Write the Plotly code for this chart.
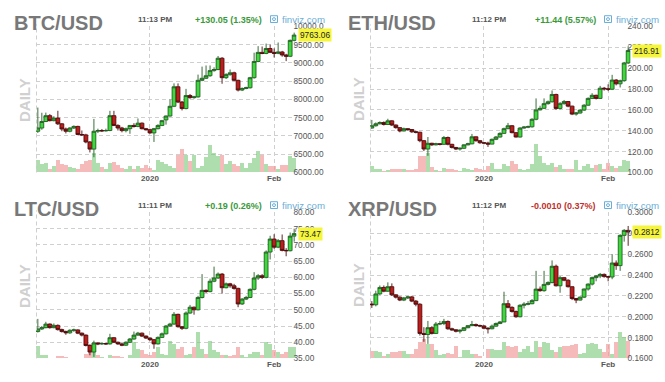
import plotly.graph_objects as go
import pandas as pd

# ---------------- data ----------------
dates = [d.strftime('%Y-%m-%d') for d in pd.date_range('2019-12-04', '2020-02-06')]

btc_open = [7129, 7218, 7396, 7556, 7420, 7490, 7333, 7191, 7129, 7218, 7262, 7040, 7030, 6836, 6640, 7129,
            7150, 7140, 7150, 7556, 7289, 7218, 7147, 7200, 7289, 7262, 7351, 7200, 7173, 7084, 7200, 7289,
            7440, 7547, 7813, 8347, 7929, 7751, 8107, 8050, 8070, 8524, 8580, 8650, 8790, 8820, 9129, 8596,
            8680, 8730, 8524, 8258, 8300, 8320, 8596, 9040, 9289, 9260, 9395, 9290, 9262, 9300, 9218, 9182, 9618]
btc_high = [7778, 7636, 7640, 7600, 7540, 7690, 7350, 7230, 7240, 7290, 7280, 7150, 7060, 6860, 7467, 7200,
            7190, 7200, 7689, 7689, 7320, 7250, 7230, 7300, 7350, 7480, 7370, 7220, 7200, 7220, 7320, 7440,
            7560, 8000, 8440, 8440, 7960, 8290, 8150, 8100, 8680, 8900, 8930, 8930, 8880, 9190, 9160, 8720,
            8820, 8760, 8540, 8330, 8350, 8620, 9280, 9460, 9450, 9530, 9500, 9400, 9560, 9330, 9250, 9640, 9830]
btc_low = [7084, 7170, 7380, 7400, 7400, 7300, 7130, 7070, 7100, 7190, 7020, 7000, 6800, 6550, 6418, 7080,
           7110, 7120, 7130, 7270, 7150, 7100, 7100, 7060, 7230, 7240, 7180, 7150, 7060, 6836, 7180, 7270,
           7310, 7530, 7790, 7900, 7700, 7730, 8020, 8020, 8050, 8500, 8560, 8620, 8760, 8800, 8430, 8560,
           8650, 8500, 8220, 8230, 8280, 8300, 8570, 9020, 9240, 9240, 9270, 9150, 9240, 9170, 9050, 9160, 9590]
btc_close = [7218, 7396, 7556, 7420, 7490, 7333, 7191, 7129, 7218, 7262, 7040, 7030, 6836, 6640, 7129, 7150,
             7140, 7150, 7556, 7289, 7218, 7147, 7200, 7289, 7262, 7351, 7200, 7173, 7084, 7200, 7289, 7420,
             7547, 7813, 8347, 7929, 7751, 8107, 8050, 8070, 8524, 8580, 8650, 8790, 8820, 9129, 8596, 8680,
             8730, 8524, 8258, 8300, 8320, 8596, 9040, 9289, 9260, 9395, 9290, 9262, 9300, 9218, 9182, 9618, 9763.06]
btc_vol = [40, 25, 28, 10, 20, 37, 25, 23, 18, 15, 10, 25, 35, 40, 60, 30, 18, 10, 28, 32, 22, 15, 10, 20, 10,
           20, 15, 22, 15, 8, 40, 33, 27, 20, 15, 55, 72, 55, 35, 53, 15, 20, 47, 85, 60, 50, 55, 25, 35, 25,
           20, 30, 15, 30, 45, 65, 53, 25, 20, 20, 10, 23, 22, 50, 45]

eth_open = [142.6, 144.8, 146.7, 147.9, 146.0, 149.5, 145.5, 143.0, 139.8, 142.0, 141.2, 139.0, 138.6, 130.5,
            122.5, 128.0, 126.5, 127.5, 127.0, 133.5, 127.0, 124.0, 122.5, 123.2, 126.5, 127.5, 134.2, 130.5,
            128.5, 128.2, 127.2, 131.8, 134.0, 137.5, 142.0, 144.8, 138.2, 134.0, 142.6, 143.5, 143.8, 151.0,
            160.0, 161.5, 166.0, 167.8, 174.8, 161.4, 166.0, 168.0, 163.6, 156.0, 157.0, 159.8, 164.5, 171.0,
            174.0, 171.0, 180.8, 180.2, 179.8, 188.6, 185.0, 188.0, 205.0]
eth_high = [150.4, 148.0, 149.0, 149.0, 151.5, 150.0, 146.0, 143.5, 143.0, 142.5, 141.5, 140.0, 139.0, 131.0,
            134.0, 128.5, 128.5, 128.0, 135.0, 134.5, 127.5, 124.5, 124.0, 127.0, 128.5, 137.0, 134.5, 131.0,
            129.0, 129.5, 132.5, 135.0, 138.5, 143.0, 147.5, 145.5, 138.5, 143.5, 144.5, 145.0, 152.0, 171.0,
            164.0, 171.0, 169.0, 178.6, 175.5, 167.5, 169.5, 168.5, 164.0, 158.0, 160.5, 165.5, 172.0, 176.0,
            174.5, 183.0, 182.0, 184.5, 193.6, 189.5, 189.0, 206.0, 221.0]
eth_low = [142.0, 144.0, 146.0, 145.0, 145.5, 144.5, 142.0, 138.5, 139.5, 140.0, 138.0, 137.5, 129.0, 120.5,
           116.0, 125.5, 126.0, 126.0, 126.5, 126.0, 123.0, 121.5, 121.0, 122.5, 126.0, 127.0, 129.5, 127.5,
           127.0, 124.5, 127.0, 131.0, 133.5, 137.0, 141.5, 137.5, 133.5, 133.5, 142.0, 142.5, 143.0, 150.0,
           159.5, 161.0, 165.0, 167.0, 160.0, 160.5, 165.0, 162.5, 155.0, 154.5, 156.5, 159.0, 164.0, 170.5,
           170.0, 170.5, 178.5, 178.0, 179.0, 183.5, 181.5, 187.0, 204.0]
eth_close = [144.8, 146.7, 147.9, 146.0, 149.5, 145.5, 143.0, 139.8, 142.0, 141.2, 139.0, 138.6, 130.5, 122.5,
             128.0, 126.5, 127.5, 127.0, 133.5, 127.0, 124.0, 122.5, 123.2, 126.5, 127.5, 134.2, 130.5, 128.5,
             128.2, 127.2, 131.8, 134.0, 137.5, 142.0, 144.8, 138.2, 134.0, 142.6, 143.5, 143.8, 151.0, 160.0,
             161.5, 166.0, 167.8, 174.8, 161.4, 166.0, 168.0, 163.6, 156.0, 157.0, 159.8, 164.5, 171.0, 174.0,
             171.0, 180.8, 180.2, 179.8, 188.6, 185.0, 188.0, 205.0, 216.91]
eth_vol = [20, 12, 12, 5, 8, 12, 10, 12, 10, 8, 8, 12, 50, 50, 60, 18, 8, 5, 15, 10, 10, 8, 5, 15, 10, 8, 15,
           10, 8, 20, 30, 12, 10, 25, 20, 35, 25, 12, 8, 12, 25, 88, 50, 30, 22, 28, 18, 22, 12, 12, 12, 40,
           8, 20, 25, 15, 22, 25, 10, 30, 20, 15, 20, 38, 35]

ltc_open = [43.3, 44.1, 44.5, 45.6, 44.5, 45.2, 43.9, 43.3, 42.9, 43.7, 43.8, 42.8, 42.2, 39.0, 37.0, 39.8,
            39.5, 39.6, 39.5, 41.4, 40.0, 39.5, 39.1, 40.0, 41.0, 42.2, 42.8, 41.9, 41.3, 40.8, 39.5, 41.5,
            42.6, 45.0, 45.6, 48.6, 44.8, 44.3, 49.0, 50.8, 50.0, 53.8, 56.0, 55.6, 58.8, 59.8, 61.0, 56.8,
            58.0, 57.4, 56.6, 51.8, 53.3, 53.8, 56.3, 59.8, 60.5, 60.0, 67.8, 71.8, 69.3, 71.3, 68.3, 68.2, 72.7]
ltc_high = [47.2, 45.0, 46.3, 45.8, 45.8, 45.5, 44.2, 43.6, 44.0, 44.2, 44.0, 43.0, 42.4, 39.3, 40.5, 40.0,
            39.9, 39.9, 42.6, 41.6, 40.2, 39.8, 40.3, 41.3, 43.3, 43.2, 43.0, 42.1, 41.5, 41.0, 41.8, 43.0,
            45.3, 46.0, 49.3, 48.8, 45.0, 49.5, 51.5, 51.0, 54.3, 61.0, 56.3, 59.6, 63.3, 61.5, 61.3, 58.4,
            58.3, 58.0, 56.8, 53.6, 54.3, 56.6, 61.6, 61.0, 61.0, 68.3, 72.8, 73.3, 71.8, 73.2, 69.0, 73.8, 75.0]
ltc_low = [43.0, 43.8, 44.3, 44.2, 44.3, 43.6, 43.0, 42.3, 42.6, 43.2, 42.5, 41.8, 38.7, 36.0, 35.5, 39.1,
           39.2, 39.2, 39.3, 39.8, 39.2, 38.8, 38.9, 39.8, 40.8, 42.0, 41.6, 41.0, 40.4, 38.0, 39.3, 41.3,
           42.4, 44.8, 45.4, 44.5, 43.8, 44.0, 48.8, 48.5, 49.8, 53.5, 55.2, 55.4, 58.5, 59.5, 55.0, 56.6,
           56.8, 56.2, 50.8, 51.5, 53.0, 53.6, 56.0, 59.2, 59.5, 59.7, 65.5, 68.8, 69.0, 68.0, 66.5, 68.0, 71.0]
ltc_close = [44.1, 44.5, 45.6, 44.5, 45.2, 43.9, 43.3, 42.9, 43.7, 43.8, 42.8, 42.2, 39.0, 37.0, 39.8, 39.5,
             39.6, 39.5, 41.4, 40.0, 39.5, 39.1, 40.0, 41.0, 42.2, 42.8, 41.9, 41.3, 40.8, 39.5, 41.5, 42.6,
             45.0, 45.6, 48.6, 44.8, 44.3, 49.0, 50.8, 50.0, 53.8, 56.0, 55.6, 58.8, 59.8, 61.0, 56.8, 58.0,
             57.4, 56.6, 51.8, 53.3, 53.8, 56.3, 59.8, 60.5, 60.0, 67.8, 71.8, 69.3, 71.3, 68.3, 68.2, 72.7, 73.47]
ltc_vol = [37, 12, 10, 3, 3, 8, 8, 5, 2, 2, 2, 3, 15, 45, 40, 12, 5, 2, 12, 8, 8, 5, 3, 10, 50, 30, 25, 15,
           10, 20, 35, 15, 10, 55, 45, 30, 35, 10, 15, 35, 83, 30, 15, 55, 25, 20, 10, 12, 8, 10, 35, 12, 5,
           15, 20, 20, 10, 50, 45, 25, 20, 15, 20, 35, 35]

xrp_open = [0.2122, 0.2115, 0.2219, 0.2281, 0.2245, 0.2288, 0.2210, 0.2188, 0.2160, 0.2180, 0.2190, 0.2150,
            0.2120, 0.1840, 0.1830, 0.1895, 0.1840, 0.1930, 0.1935, 0.1955, 0.1885, 0.1875, 0.1862, 0.1870,
            0.1895, 0.1915, 0.1925, 0.1915, 0.1912, 0.1890, 0.1885, 0.1910, 0.1935, 0.1950, 0.2125, 0.2090,
            0.2050, 0.2000, 0.2110, 0.2120, 0.2125, 0.2155, 0.2265, 0.2250, 0.2310, 0.2328, 0.2484, 0.2297,
            0.2375, 0.2350, 0.2288, 0.2175, 0.2160, 0.2188, 0.2266, 0.2313, 0.2375, 0.2391, 0.2406, 0.2385,
            0.2381, 0.2515, 0.2490, 0.2780, 0.2828]
xrp_high = [0.2150, 0.2250, 0.2300, 0.2300, 0.2330, 0.2320, 0.2215, 0.2195, 0.2190, 0.2200, 0.2200, 0.2160,
            0.2130, 0.1900, 0.1960, 0.1910, 0.1950, 0.1960, 0.1980, 0.1965, 0.1895, 0.1880, 0.1880, 0.1900,
            0.1920, 0.1960, 0.1935, 0.1925, 0.1920, 0.1900, 0.1925, 0.1945, 0.1960, 0.2240, 0.2160, 0.2100,
            0.2060, 0.2120, 0.2140, 0.2150, 0.2170, 0.2440, 0.2290, 0.2440, 0.2340, 0.2540, 0.2500, 0.2390,
            0.2380, 0.2360, 0.2290, 0.2180, 0.2195, 0.2270, 0.2320, 0.2385, 0.2400, 0.2420, 0.2415, 0.2390,
            0.2600, 0.2540, 0.2790, 0.2840, 0.2870]
xrp_low = [0.2085, 0.2100, 0.2210, 0.2235, 0.2240, 0.2200, 0.2175, 0.2150, 0.2150, 0.2170, 0.2140, 0.2100,
           0.1820, 0.1760, 0.1740, 0.1830, 0.1840, 0.1920, 0.1920, 0.1875, 0.1865, 0.1850, 0.1840, 0.1862,
           0.1890, 0.1910, 0.1905, 0.1900, 0.1880, 0.1840, 0.1880, 0.1905, 0.1930, 0.1950, 0.2080, 0.2040,
           0.1990, 0.1995, 0.2080, 0.2110, 0.2120, 0.2150, 0.2240, 0.2240, 0.2300, 0.2320, 0.2290, 0.2230,
           0.2340, 0.2280, 0.2160, 0.2130, 0.2155, 0.2180, 0.2250, 0.2300, 0.2340, 0.2370, 0.2375, 0.2340,
           0.2360, 0.2450, 0.2440, 0.2720, 0.2680]
xrp_close = [0.2115, 0.2219, 0.2281, 0.2245, 0.2288, 0.2210, 0.2188, 0.2160, 0.2180, 0.2190, 0.2150, 0.2120,
             0.1840, 0.1830, 0.1895, 0.1840, 0.1930, 0.1935, 0.1955, 0.1885, 0.1875, 0.1862, 0.1870, 0.1895,
             0.1915, 0.1925, 0.1915, 0.1912, 0.1890, 0.1885, 0.1910, 0.1935, 0.1950, 0.2125, 0.2090, 0.2050,
             0.2000, 0.2110, 0.2120, 0.2125, 0.2155, 0.2265, 0.2250, 0.2310, 0.2328, 0.2484, 0.2297, 0.2375,
             0.2350, 0.2288, 0.2175, 0.2160, 0.2188, 0.2266, 0.2313, 0.2375, 0.2391, 0.2406, 0.2385, 0.2381,
             0.2515, 0.2490, 0.2780, 0.2828, 0.2812]
xrp_vol = [22, 22, 20, 8, 15, 20, 20, 22, 22, 15, 15, 30, 50, 60, 45, 45, 25, 12, 15, 18, 15, 40, 5, 25, 25,
           15, 15, 8, 3, 30, 30, 25, 25, 50, 40, 35, 38, 20, 30, 40, 20, 55, 35, 50, 48, 25, 20, 35, 38, 40,
           42, 45, 15, 18, 45, 48, 45, 30, 20, 45, 15, 50, 83, 65, 55]

btc_ticks = [6000, 6500, 7000, 7500, 8000, 8500, 9000, 9500, 10000]
btc_ticklabels = ['6000.00', '6500.00', '7000.00', '7500.00', '8000.00', '8500.00', '9000.00', '9500.00', '10000.0']
eth_ticks = [100, 120, 140, 160, 180, 200, 220, 240]
eth_ticklabels = ['100.00', '120.00', '140.00', '160.00', '180.00', '200.00', '220.00', '240.00']
ltc_ticks = [35, 40, 45, 50, 55, 60, 65, 70, 75, 80]
ltc_ticklabels = ['35.00', '40.00', '45.00', '50.00', '55.00', '60.00', '65.00', '70.00', '75.00', '80.00']
xrp_ticks = [0.16, 0.18, 0.20, 0.22, 0.24, 0.26, 0.28, 0.30]
xrp_ticklabels = ['0.1600', '0.1800', '0.2000', '0.2200', '0.2400', '0.2600', '0.2800', '0.3000']

x_ticks = ['2020-01-01', '2020-02-01']
x_ticklabels = ['2020', 'Feb']

# ---------------- styling ----------------
W, H = 665, 382
FONT = 'Liberation Sans, Arial, sans-serif'
GRID = '#cfcfcf'
GREEN_TXT = '#3a9a3a'
RED_TXT = '#c0302b'
FV_BLUE = '#6aaed8'


def px(x):
    return x / W


def py(y):
    return 1 - y / H


panels = [
    dict(title='BTC/USD', time='11:13 PM', change='+130.05 (1.35%)', ccol=GREEN_TXT,
         o=btc_open, h=btc_high, l=btc_low, c=btc_close, v=btc_vol,
         yr=[6000, 10000], tv=btc_ticks, tt=btc_ticklabels, last='9763.06', dx=0, dy=0),
    dict(title='ETH/USD', time='11:12 PM', change='+11.44 (5.57%)', ccol=GREEN_TXT,
         o=eth_open, h=eth_high, l=eth_low, c=eth_close, v=eth_vol,
         yr=[100, 240], tv=eth_ticks, tt=eth_ticklabels, last='216.91', dx=334, dy=0),
    dict(title='LTC/USD', time='11:11 PM', change='+0.19 (0.26%)', ccol=GREEN_TXT,
         o=ltc_open, h=ltc_high, l=ltc_low, c=ltc_close, v=ltc_vol,
         yr=[35, 80], tv=ltc_ticks, tt=ltc_ticklabels, last='73.47', dx=0, dy=191),
    dict(title='XRP/USD', time='11:12 PM', change='-0.0010 (0.37%)', ccol=RED_TXT,
         o=xrp_open, h=xrp_high, l=xrp_low, c=xrp_close, v=xrp_vol,
         yr=[0.16, 0.30], tv=xrp_ticks, tt=xrp_ticklabels, last='0.2812', dx=334, dy=191),
]

fig = go.Figure()
layout = dict(width=W, height=H, margin=dict(l=0, r=0, t=0, b=0), autosize=False,
              paper_bgcolor='white', plot_bgcolor='white', showlegend=False,
              boxgap=0.05, boxgroupgap=0, bargap=0, font=dict(family=FONT, color='#555'),
              hovermode=False)
annotations = []
shapes = []

for i, p in enumerate(panels):
    dx, dy = p['dx'], p['dy']
    L, R, T, B = 36 + dx, 296.5 + dx, 22 + dy, 172 + dy
    xid = 'x' if i == 0 else f'x{i + 1}'
    vid = 'y' if i == 0 else f'y{2 * i + 1}'
    pid = f'y{2 * i + 2}'
    xname = 'xaxis' if i == 0 else f'xaxis{i + 1}'
    vname = 'yaxis' if i == 0 else f'yaxis{2 * i + 1}'
    pname = f'yaxis{2 * i + 2}'

    vcols = ['rgba(120,200,120,0.6)' if c >= o else 'rgba(240,150,150,0.65)'
             for o, c in zip(p['o'], p['c'])]
    fig.add_trace(go.Bar(x=dates, y=p['v'], marker=dict(color=vcols, line=dict(width=0)),
                         xaxis=xid, yaxis=vid, hoverinfo='skip'))
    fig.add_trace(go.Candlestick(x=dates, open=p['o'], high=p['h'], low=p['l'], close=p['c'],
                                 xaxis=xid, yaxis=pid, whiskerwidth=0,
                                 increasing=dict(line=dict(color='#245e24', width=0.9), fillcolor='#3cd83c'),
                                 decreasing=dict(line=dict(color='#4e0c0c', width=0.9), fillcolor='#bf1c1c'),
                                 hoverinfo='skip'))

    layout[xname] = dict(domain=[px(L), px(R)], anchor=vid, type='date',
                         range=['2019-12-03 13:00', '2020-02-06 14:00'],
                         rangeslider=dict(visible=False), tickvals=x_ticks, ticktext=x_ticklabels,
                         showgrid=True, gridcolor=GRID, griddash='4px,3px', gridwidth=1,
                         ticks='', showline=False, zeroline=False, fixedrange=True,
                         tickfont=dict(family=FONT, size=8, color='#555', weight='bold'))
    layout[vname] = dict(domain=[py(B), py(T)], anchor=xid, range=[0, 450], visible=False,
                         fixedrange=True)
    layout[pname] = dict(domain=[py(B), py(T)], anchor=xid, overlaying=vid, side='right',
                         range=p['yr'], tickvals=p['tv'], ticktext=p['tt'],
                         showgrid=True, gridcolor=GRID, griddash='4px,3px', gridwidth=1,
                         ticks='', showline=False, zeroline=False, fixedrange=True,
                         ticklabelstandoff=-4,
                         tickfont=dict(family=FONT, size=8.3, color='#555'))

    # left border (dashed)
    shapes.append(dict(type='line', xref='paper', yref='paper', x0=px(L + 0.5), x1=px(L + 0.5),
                       y0=py(B), y1=py(T - 2), line=dict(color=GRID, width=1, dash='4px,3px')))
    # finviz icon
    shapes.append(dict(type='rect', xref='paper', yref='paper', x0=px(270.5 + dx), x1=px(277.5 + dx),
                       y0=py(18 + dy), y1=py(11 + dy), line=dict(color=FV_BLUE, width=1)))
    shapes.append(dict(type='circle', xref='paper', yref='paper', x0=px(272.5 + dx), x1=px(275.5 + dx),
                       y0=py(16 + dy), y1=py(13 + dy), line=dict(color=FV_BLUE, width=1)))

    annotations += [
        dict(text=f"<b>{p['title']}</b>", x=px(12 + dx), y=py(18 + dy), xref='paper', yref='paper',
             xanchor='left', yanchor='middle', showarrow=False,
             font=dict(family=FONT, size=20, color='#787878')),
        dict(text=f"<b>{p['time']}</b>", x=px(155 + dx), y=py(15 + dy), xref='paper', yref='paper',
             xanchor='center', yanchor='middle', showarrow=False,
             font=dict(family=FONT, size=8, color='#555')),
        dict(text=f"<b>{p['change']}</b>", x=px(264 + dx), y=py(15 + dy), xref='paper', yref='paper',
             xanchor='right', yanchor='middle', showarrow=False,
             font=dict(family=FONT, size=9, color=p['ccol'])),
        dict(text='finviz.com', x=px(280 + dx), y=py(14.5 + dy), xref='paper', yref='paper',
             xanchor='left', yanchor='middle', showarrow=False,
             font=dict(family=FONT, size=9.7, color=FV_BLUE)),
        dict(text='<b>DAILY</b>', x=px(24.5 + dx), y=py(97 + dy), xref='paper', yref='paper',
             xanchor='center', yanchor='middle', showarrow=False, textangle=-90,
             font=dict(family=FONT, size=15, color='#d0d0d0')),
        dict(text=p['last'], x=px(R + 1), y=p['c'][-1], xref='paper', yref=pid,
             xanchor='left', yanchor='middle', showarrow=False, bgcolor='#f5f53c', borderpad=1,
             font=dict(family=FONT, size=8.3, color='#222')),
    ]

layout['annotations'] = annotations
layout['shapes'] = shapes
fig.update_layout(**layout)
fig.write_html('out.html', config={'displayModeBar': False, 'staticPlot': True},
               post_script="document.body.style.margin='0';document.body.style.overflow='hidden';")
